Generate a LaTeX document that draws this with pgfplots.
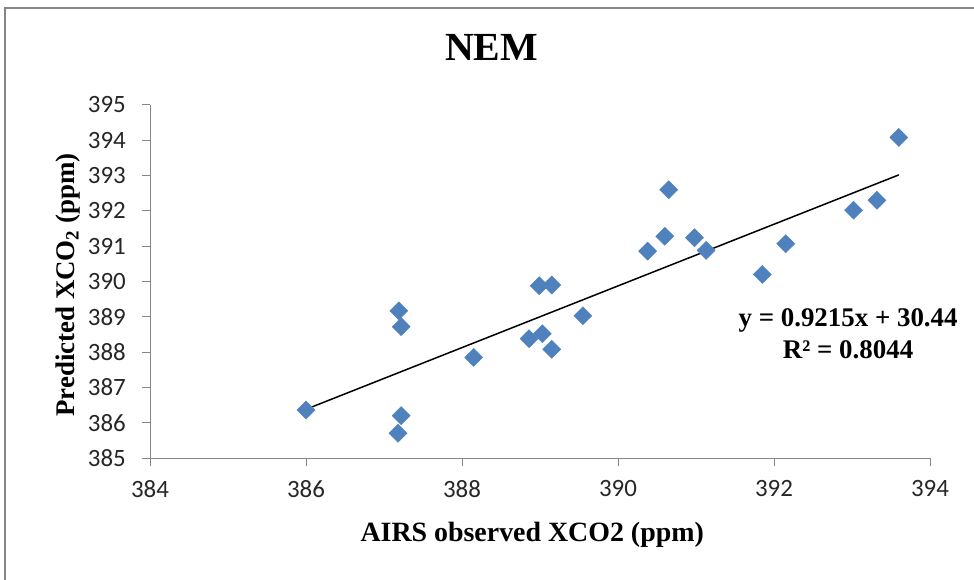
\documentclass[border=0pt]{standalone}
\usepackage{pgfplots}
\pgfplotsset{compat=1.18}
\usepackage{fontspec}
\setmainfont{Liberation Serif}
\newfontfamily\tickfont{Carlito}
\definecolor{excelblue}{HTML}{4F81BD}
\definecolor{axgray}{HTML}{868686}

\pgfplotstableread{
x y
386.00 386.36
387.19 389.17
387.22 388.72
387.22 386.20
387.18 385.70
388.15 387.85
388.86 388.38
389.03 388.52
389.15 388.08
388.99 389.88
389.15 389.90
389.55 389.03
390.38 390.86
390.60 391.28
390.65 392.60
390.98 391.24
391.13 390.88
391.85 390.20
392.15 391.07
393.02 392.02
393.32 392.30
393.60 394.08
}\nemdata

\begin{document}
\begin{tikzpicture}
\useasboundingbox (0bp,0bp) rectangle (974bp,580bp);
\draw[axgray, line width=1.2bp] (5bp,-20bp) -- (5bp,572bp) -- (990bp,572bp);
\begin{axis}[
  at={(150bp,122bp)}, anchor=south west,
  scale only axis, width=780bp, height=353bp,
  xmin=384, xmax=394, ymin=385, ymax=395,
  xtick={384,386,...,394}, ytick={385,386,...,395},
  axis x line*=bottom, axis y line*=left,
  axis line style={axgray, line width=1bp},
  x axis line style={-}, y axis line style={-},
  tick style={axgray, line width=1bp},
  tick align=outside, major tick length=8bp,
  /pgf/number format/assume math mode=true,
  /pgf/number format/1000 sep={},
  ticklabel style={font=\tickfont\fontsize{25}{28}\selectfont, text=black!85},
  xticklabel style={anchor=north, inner sep=0pt, yshift=-14bp},
  yticklabel style={anchor=east, inner sep=0pt, xshift=-16bp},
  title={NEM},
  title style={font=\bfseries\fontsize{40}{46}\selectfont, at={(rel axis cs:0.438,1.147)}, anchor=center},
  xlabel={AIRS observed XCO2 (ppm)},
  xlabel style={font=\bfseries\fontsize{28}{32}\selectfont, at={(rel axis cs:0.49,-0.218)}, anchor=center},
  ylabel={Predicted XCO\textsubscript{2} (ppm)},
  ylabel style={font=\bfseries\fontsize{27}{31}\selectfont, at={(rel axis cs:-0.105,0.49)}, anchor=center, rotate=0},
  clip=false,
]
\addplot[only marks, mark=square*, mark size=6.4bp,
  mark options={rotate=45, fill=excelblue, draw=excelblue}]
  table[x=x, y=y] {\nemdata};
\addplot[black, line width=1.5bp, no marks]
  coordinates {(386.0,386.38) (393.6,393.02)};
\node[font=\bfseries\fontsize{27}{31}\selectfont, align=center, inner sep=0]
  at (axis cs:392.95,388.52) {y = 0.9215x + 30.44\\[1bp]R² = 0.8044};
\end{axis}
\end{tikzpicture}
\end{document}
